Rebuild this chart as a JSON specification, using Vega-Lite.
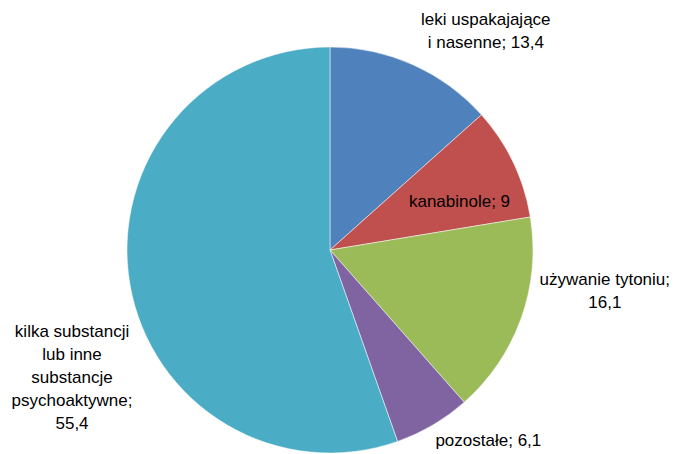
{
  "$schema": "https://vega.github.io/schema/vega-lite/v6.json",
  "width": 660,
  "height": 406,
  "autosize": {"type": "none"},
  "padding": {"left": 0, "top": 47, "right": 15, "bottom": 1},
  "background": "#ffffff",
  "config": {"view": {"stroke": null}},
  "data": {
    "values": [
      {"kolejnosc": 1, "kategoria": "leki uspakajające i nasenne", "wartosc": 13.4, "etykieta": "leki uspakajające\ni nasenne; 13,4"},
      {"kolejnosc": 2, "kategoria": "kanabinole", "wartosc": 9.0, "etykieta": "kanabinole; 9"},
      {"kolejnosc": 3, "kategoria": "używanie tytoniu", "wartosc": 16.1, "etykieta": "używanie tytoniu;\n16,1"},
      {"kolejnosc": 4, "kategoria": "pozostałe", "wartosc": 6.1, "etykieta": "pozostałe; 6,1"},
      {"kolejnosc": 5, "kategoria": "kilka substancji lub inne substancje psychoaktywne", "wartosc": 55.4, "etykieta": "kilka substancji\nlub inne\nsubstancje\npsychoaktywne;\n55,4"}
    ]
  },
  "encoding": {
    "theta": {"field": "wartosc", "type": "quantitative", "stack": true},
    "order": {"field": "kolejnosc", "type": "quantitative"}
  },
  "layer": [
    {
      "mark": {"type": "arc", "stroke": "#ffffff", "strokeWidth": 0.5},
      "encoding": {
        "color": {
          "field": "kategoria",
          "type": "nominal",
          "legend": null,
          "scale": {
            "domain": ["leki uspakajające i nasenne", "kanabinole", "używanie tytoniu", "pozostałe", "kilka substancji lub inne substancje psychoaktywne"],
            "range": ["#4F81BD", "#C0504D", "#9BBB59", "#8064A2", "#4BACC6"]
          }
        }
      }
    },
    {
      "mark": {"type": "text", "radius": 210, "dx": 70, "dy": -38, "align": "center", "baseline": "middle", "lineBreak": "\n", "lineHeight": 23, "font": "Liberation Sans, Arial", "fontSize": 17, "fill": "#000000"},
      "encoding": {"text": {"condition": {"test": "datum.kolejnosc === 1", "field": "etykieta"}, "value": ""}}
    },
    {
      "mark": {"type": "text", "radius": 138, "dx": 5, "dy": 12, "align": "center", "baseline": "middle", "lineBreak": "\n", "lineHeight": 23, "font": "Liberation Sans, Arial", "fontSize": 17, "fill": "#000000"},
      "encoding": {"text": {"condition": {"test": "datum.kolejnosc === 2", "field": "etykieta"}, "value": ""}}
    },
    {
      "mark": {"type": "text", "radius": 210, "dx": 77, "dy": -41, "align": "center", "baseline": "middle", "lineBreak": "\n", "lineHeight": 23, "font": "Liberation Sans, Arial", "fontSize": 17, "fill": "#000000"},
      "encoding": {"text": {"condition": {"test": "datum.kolejnosc === 3", "field": "etykieta"}, "value": ""}}
    },
    {
      "mark": {"type": "text", "radius": 210, "dx": 52, "dy": 10, "align": "center", "baseline": "middle", "lineBreak": "\n", "lineHeight": 23, "font": "Liberation Sans, Arial", "fontSize": 17, "fill": "#000000"},
      "encoding": {"text": {"condition": {"test": "datum.kolejnosc === 4", "field": "etykieta"}, "value": ""}}
    },
    {
      "mark": {"type": "text", "radius": 210, "dx": -51, "dy": 47, "align": "center", "baseline": "middle", "lineBreak": "\n", "lineHeight": 23, "font": "Liberation Sans, Arial", "fontSize": 17, "fill": "#000000"},
      "encoding": {"text": {"condition": {"test": "datum.kolejnosc === 5", "field": "etykieta"}, "value": ""}}
    }
  ]
}
